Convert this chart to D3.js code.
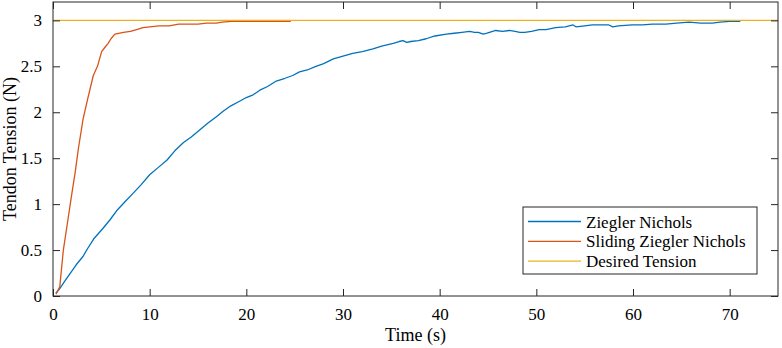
<!DOCTYPE html>
<html><head><meta charset="utf-8">
<script src="https://cdn.jsdelivr.net/npm/d3@7"></script>
<style>body{margin:0;background:#fff}svg{display:block}</style>
</head><body>
<svg id="c" width="782" height="348"></svg>
<script>
const xTicks = [0,10,20,30,40,50,60,70];
const yTicks = [0,0.5,1,1.5,2,2.5,3];
const yTickLabels = ["0","0.5","1","1.5","2","2.5","3"];
const seriesNames = ["Ziegler Nichols","Sliding Ziegler Nichols","Desired Tension"];
const znTime = [0.3,0.7,1.2,1.8,2.4,3.1,3.6,4.2,4.7,5.2,5.9,6.6,7.4,8.3,9.1,10.0,10.9,11.8,12.6,13.5,14.3,15.2,16.0,16.9,17.6,18.4,19.3,20.0,20.7,21.4,22.2,23.1,24.0,24.8,25.5,26.3,27.2,28.0,29.0,30.0,31.0,32.0,33.1,34.0,35.2,35.8,36.2,36.6,37.0,37.8,38.6,39.5,40.7,41.5,42.3,43.1,43.6,44.0,44.5,44.9,45.8,46.5,47.2,47.8,48.3,48.8,49.5,50.3,51.0,52.0,53.0,53.8,54.1,55.0,55.8,56.8,57.5,57.9,58.5,59.9,61.0,62.0,63.4,64.5,65.8,67.0,68.2,69.0,70.0,71.1];
const znValue = [0.03,0.08,0.16,0.25,0.34,0.43,0.52,0.62,0.68,0.74,0.83,0.93,1.02,1.12,1.21,1.32,1.40,1.48,1.58,1.67,1.73,1.81,1.88,1.95,2.01,2.07,2.12,2.16,2.19,2.24,2.28,2.34,2.37,2.40,2.44,2.46,2.50,2.53,2.58,2.61,2.64,2.66,2.69,2.72,2.75,2.77,2.78,2.76,2.77,2.78,2.80,2.83,2.85,2.86,2.87,2.88,2.87,2.87,2.85,2.86,2.89,2.88,2.89,2.88,2.87,2.87,2.88,2.90,2.90,2.92,2.93,2.95,2.93,2.94,2.95,2.95,2.95,2.93,2.94,2.95,2.95,2.96,2.96,2.97,2.98,2.97,2.97,2.98,2.99,2.99];
const szTime = [0.3,0.7,1.07,1.5,1.93,2.3,2.62,3.1,3.6,4.17,4.6,5.03,5.4,5.7,6.0,6.4,7.3,8.0,8.65,9.3,10.0,11.0,12.0,13.0,14.0,15.0,15.9,16.9,17.5,18.5,20,22,24.6];
const szValue = [0.02,0.10,0.50,0.80,1.10,1.35,1.60,1.92,2.15,2.40,2.50,2.66,2.71,2.75,2.80,2.85,2.87,2.88,2.90,2.92,2.93,2.94,2.94,2.96,2.96,2.96,2.97,2.97,2.98,2.99,2.99,2.99,2.99];
const desiredTime = [0,75];
const desiredValue = [3,3];
const colors = ["#0072BD","#D95319","#EDB120"];

const svg = d3.select("#c");
const L=53,R=778,T=2,B=296;
const x = d3.scaleLinear().domain([0,75]).range([L,R]);
const y = d3.scaleLinear().domain([0,3.2]).range([B,T]);
const font = "'Liberation Serif','Times New Roman',serif";
const axc = "#262626";
svg.attr("font-family",font);

const line = d3.line().x(d=>x(d[0])).y(d=>y(d[1]));
const series = [
  d3.zip(znTime,znValue),
  d3.zip(szTime,szValue),
  d3.zip(desiredTime,desiredValue)
];
series.forEach((s,i)=>{
  svg.append("path").attr("d",line(s)).attr("fill","none")
    .attr("stroke",colors[i]).attr("stroke-width",1.3).attr("stroke-linejoin","round");
});

const g = svg.append("g");
const bx = g.append("g").attr("transform",`translate(0,${B})`)
  .call(d3.axisBottom(x).tickValues(xTicks).tickSizeInner(-7).tickSizeOuter(0).tickPadding(12));
const tx = g.append("g").attr("transform",`translate(0,${T})`)
  .call(d3.axisTop(x).tickValues(xTicks).tickSizeInner(-7).tickSizeOuter(0).tickFormat(""));
const ly = g.append("g").attr("transform",`translate(${L},0)`)
  .call(d3.axisLeft(y).tickValues(yTicks).tickSizeInner(-7).tickSizeOuter(0).tickPadding(11)
    .tickFormat((d,i)=>yTickLabels[i]));
const ry = g.append("g").attr("transform",`translate(${R},0)`)
  .call(d3.axisRight(y).tickValues(yTicks).tickSizeInner(-7).tickSizeOuter(0).tickFormat(""));
[bx,tx,ly,ry].forEach(a=>{
  a.attr("font-family",font);
  a.selectAll(".domain").remove();
  a.selectAll("line").attr("stroke",axc).attr("stroke-width",1);
  a.selectAll("text").attr("font-size",17).attr("fill","#000");
});
g.append("rect").attr("x",L).attr("y",T).attr("width",R-L).attr("height",B-T)
  .attr("fill","none").attr("stroke",axc).attr("stroke-width",1);

svg.append("text").attr("x",(L+R)/2).attr("y",341).attr("text-anchor","middle")
  .attr("font-size",18).text("Time (s)");
svg.append("text").attr("transform",`translate(16,${(T+B)/2}) rotate(-90)`)
  .attr("text-anchor","middle").attr("font-size",18).text("Tendon Tension (N)");

const lg = svg.append("g");
lg.append("rect").attr("x",523).attr("y",207).attr("width",234).attr("height",67)
  .attr("fill","#fff").attr("stroke",axc).attr("stroke-width",1);
seriesNames.forEach((n,i)=>{
  const cy = 221.5 + i*19.8;
  lg.append("line").attr("x1",528).attr("x2",581).attr("y1",cy).attr("y2",cy)
    .attr("stroke",colors[i]).attr("stroke-width",1.3);
  lg.append("text").attr("x",586).attr("y",cy+6)
    .attr("font-size",17).text(n);
});
</script>
</body></html>
